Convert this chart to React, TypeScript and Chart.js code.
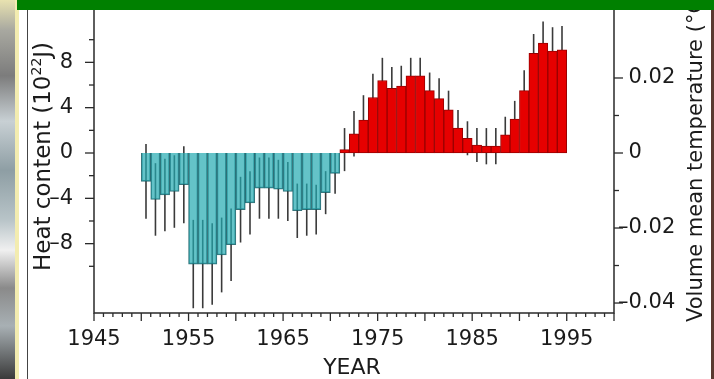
import { useEffect, useRef } from 'react';
import { Chart, registerables } from 'chart.js';

Chart.register(...registerables);

// ---- data ----
const years = [
  1950, 1951, 1952, 1953, 1954, 1955, 1956, 1957, 1958, 1959,
  1960, 1961, 1962, 1963, 1964, 1965, 1966, 1967, 1968, 1969,
  1970, 1971, 1972, 1973, 1974, 1975, 1976, 1977, 1978, 1979,
  1980, 1981, 1982, 1983, 1984, 1985, 1986, 1987, 1988, 1989,
  1990, 1991, 1992, 1993, 1994,
];
// heat content, 10^22 J
const heatContent = [
  -2.5, -4.1, -3.7, -3.4, -2.8, -9.8, -9.8, -9.8, -9.0, -8.1,
  -5.0, -4.4, -3.1, -3.1, -3.2, -3.4, -5.1, -5.0, -5.0, -3.5,
  -1.8, 0.3, 1.7, 2.9, 4.9, 6.4, 5.7, 5.9, 6.8, 6.8,
  5.5, 4.8, 3.8, 2.2, 1.3, 0.7, 0.6, 0.6, 1.6, 3.0,
  5.5, 8.8, 9.7, 9.0, 9.1,
];
// half-length of the error bars, 10^22 J
const errorHalf = [
  3.3, 3.2, 3.2, 3.2, 3.4, 3.9, 3.9, 3.6, 3.3, 3.2,
  2.9, 2.8, 2.7, 2.7, 2.6, 2.6, 2.4, 2.3, 2.2, 1.9,
  1.8, 1.9, 2.0, 2.2, 2.1, 2.0, 1.9, 1.8, 1.6, 1.6,
  1.6, 1.8, 1.7, 1.6, 1.5, 1.5, 1.6, 1.6, 1.6, 1.6,
  1.8, 1.7, 1.9, 2.1, 2.1,
];

const xTickValues = [1945, 1955, 1965, 1975, 1985, 1995];
const xTickLabels = ['1945', '1955', '1965', '1975', '1985', '1995'];
const leftTickValues = [-8, -4, 0, 4, 8];
const leftTickLabels = ['\u20138', '\u20134', '0', '4', '8'];
const leftMinorTicks = [-10, -6, -2, 2, 6, 10];
const rightTickValues = [-0.04, -0.02, 0, 0.02];
const rightTickLabels = ['\u20130.04', '\u20130.02', '\u20020', '\u20020.02'];
const rightMinorTicks = [-0.03, -0.01, 0.01];

const leftTitleParts = ['Heat content (10', '22', 'J)'];
const rightTitle = 'Volume mean temperature (\u00B0C)';
const xTitle = 'YEAR';

// axis ranges
const X_MIN = 1945;
const X_MAX = 2000;
const Y_MIN = -14.12;
const Y_MAX = 12.62;
const TEMP_PER_UNIT = 0.02 / 6.62; // degC per 10^22 J

const FONT = "'DejaVu Sans', sans-serif";
const INK = '#1b1b1b';

const paperPlugin = {
  id: 'paperAxes',
  beforeDatasetsDraw(chart: any) {
    const { ctx } = chart;
    const xs = chart.scales.x;
    const ys = chart.scales.y;
    ctx.save();
    ctx.strokeStyle = '#3a3a3a';
    ctx.lineWidth = 1.6;
    years.forEach((yr, i) => {
      const px = xs.getPixelForValue(yr + 0.5);
      const v = heatContent[i];
      const e = errorHalf[i];
      ctx.beginPath();
      ctx.moveTo(px, ys.getPixelForValue(v + e));
      ctx.lineTo(px, ys.getPixelForValue(v - e));
      ctx.stroke();
    });
    ctx.restore();
  },
  afterDraw(chart: any) {
    const { ctx, chartArea } = chart;
    const { left, right, bottom } = chartArea;
    const xs = chart.scales.x;
    const ys = chart.scales.y;
    const y2 = chart.scales.y2;
    ctx.save();
    ctx.strokeStyle = '#2a2a2a';
    ctx.lineWidth = 1.5;
    // axis lines
    ctx.beginPath();
    ctx.moveTo(left, 0);
    ctx.lineTo(left, bottom);
    ctx.lineTo(right, bottom);
    ctx.lineTo(right, 0);
    ctx.stroke();
    // x ticks (every year, longer every 5)
    ctx.lineWidth = 1.3;
    for (let yr = X_MIN; yr <= X_MAX; yr++) {
      const px = xs.getPixelForValue(yr);
      const len = (yr - X_MIN) % 5 === 0 ? 8 : 4;
      ctx.beginPath();
      ctx.moveTo(px, bottom);
      ctx.lineTo(px, bottom + len);
      ctx.stroke();
    }
    const drawY = (scale: any, vals: number[], len: number, dir: number, x0: number) => {
      vals.forEach((v) => {
        const py = scale.getPixelForValue(v);
        ctx.beginPath();
        ctx.moveTo(x0, py);
        ctx.lineTo(x0 + dir * len, py);
        ctx.stroke();
      });
    };
    drawY(ys, leftTickValues, 9, -1, left);
    drawY(ys, leftMinorTicks, 5, -1, left);
    drawY(y2, rightTickValues, 9, 1, right);
    drawY(y2, rightMinorTicks, 5, 1, right);

    // titles
    ctx.fillStyle = INK;
    ctx.textBaseline = 'middle';
    // left (rotated, with superscript)
    ctx.save();
    ctx.translate(44, 271);
    ctx.rotate(-Math.PI / 2);
    ctx.textAlign = 'left';
    let pos = 0;
    ctx.font = `23px ${FONT}`;
    ctx.fillText(leftTitleParts[0], pos, 0);
    pos += ctx.measureText(leftTitleParts[0]).width;
    ctx.font = `14px ${FONT}`;
    ctx.fillText(leftTitleParts[1], pos, -7);
    pos += ctx.measureText(leftTitleParts[1]).width;
    ctx.font = `23px ${FONT}`;
    ctx.fillText(leftTitleParts[2], pos, 0);
    ctx.restore();
    // right (rotated)
    ctx.save();
    ctx.translate(697, 322);
    ctx.rotate(-Math.PI / 2);
    ctx.textAlign = 'left';
    ctx.font = `21px ${FONT}`;
    ctx.fillText(rightTitle, 0, 0);
    ctx.restore();
    // x title
    ctx.textAlign = 'center';
    ctx.font = `22px ${FONT}`;
    ctx.fillText(xTitle, 352, 368);
    ctx.restore();
  },
};

export default function App() {
  const canvasRef = useRef<HTMLCanvasElement>(null);

  useEffect(() => {
    const canvas = canvasRef.current;
    if (!canvas) return;
    const neg = (c: any) => ((c.raw && c.raw.y) || 0) < 0;
    const chart = new Chart(canvas, {
      type: 'bar',
      data: {
        datasets: [
          {
            label: 'Heat content',
            data: years.map((yr, i) => ({ x: yr + 0.5, y: heatContent[i] })),
            backgroundColor: (c: any) => (neg(c) ? 'rgba(34,169,176,0.7)' : '#e60000'),
            borderColor: (c: any) => (neg(c) ? 'rgba(18,92,100,0.85)' : '#980000'),
            borderWidth: 1,
            borderSkipped: (c: any) => (neg(c) ? 'start' : false),
            barPercentage: 1,
            categoryPercentage: 1,
            xAxisID: 'x',
            yAxisID: 'y',
          } as any,
        ],
      },
      options: {
        animation: false,
        responsive: true,
        maintainAspectRatio: false,
        devicePixelRatio: 1,
        layout: { padding: { top: 10, left: 0, right: 0, bottom: 0 } },
        plugins: { legend: { display: false }, tooltip: { enabled: false } },
        scales: {
          x: {
            type: 'linear',
            min: X_MIN,
            max: X_MAX,
            offset: false,
            grid: { display: false, offset: false },
            border: { display: false },
            afterBuildTicks: (s: any) => {
              s.ticks = xTickValues.map((v) => ({ value: v }));
            },
            afterFit: (s: any) => {
              s.height = 66;
              s.paddingLeft = 0;
              s.paddingRight = 0;
            },
            ticks: {
              autoSkip: false,
              maxRotation: 0,
              padding: 6,
              color: INK,
              font: { family: FONT, size: 21 },
              callback: (_v: any, i: number) => xTickLabels[i],
            },
          },
          y: {
            type: 'linear',
            position: 'left',
            min: Y_MIN,
            max: Y_MAX,
            grid: { display: false },
            border: { display: false },
            afterBuildTicks: (s: any) => {
              s.ticks = leftTickValues.map((v) => ({ value: v }));
            },
            afterFit: (s: any) => {
              s.width = 94;
              s.paddingTop = 0;
              s.paddingBottom = 0;
            },
            ticks: {
              autoSkip: false,
              padding: 13,
              color: INK,
              font: { family: FONT, size: 21 },
              callback: (_v: any, i: number) => leftTickLabels[i],
            },
          },
          y2: {
            type: 'linear',
            position: 'right',
            min: Y_MIN * TEMP_PER_UNIT,
            max: Y_MAX * TEMP_PER_UNIT,
            grid: { display: false },
            border: { display: false },
            afterBuildTicks: (s: any) => {
              s.ticks = rightTickValues.map((v) => ({ value: v }));
            },
            afterFit: (s: any) => {
              s.width = 100;
              s.paddingTop = 0;
              s.paddingBottom = 0;
            },
            ticks: {
              autoSkip: false,
              padding: -4,
              color: INK,
              font: { family: FONT, size: 21 },
              callback: (_v: any, i: number) => rightTickLabels[i],
            },
          },
        },
      } as any,
      plugins: [paperPlugin],
    });
    return () => chart.destroy();
  }, []);

  return (
    <div
      style={{
        position: 'fixed',
        left: 0,
        top: 0,
        width: 714,
        height: 379,
        background: '#ffffff',
        overflow: 'hidden',
      }}
    >
      <div style={{ position: 'absolute', left: 0, top: 0, width: 714, height: 379 }}>
        <canvas ref={canvasRef} />
      </div>
      {/* photo strip on the left edge */}
      <div
        style={{
          position: 'absolute',
          left: 0,
          top: 0,
          width: 15,
          height: 379,
          background:
            'linear-gradient(to bottom, #e8e2b0 0%, #a8a8a0 8%, #7c7c7c 20%, #c8d0d4 32%, #8e9ea4 45%, #b8c4c8 58%, #f0f0f0 66%, #8a8a8a 76%, #a8b0b4 86%, #3a3a3a 100%)',
        }}
      />
      <div style={{ position: 'absolute', left: 15, top: 0, width: 4, height: 379, background: '#f3ecb0' }} />
      <div style={{ position: 'absolute', left: 27, top: 10, width: 1, height: 369, background: '#444' }} />
      {/* green banner at the top */}
      <div style={{ position: 'absolute', left: 17, top: 0, width: 697, height: 10, background: '#008000' }} />
      {/* dark edge on the right */}
      <div style={{ position: 'absolute', left: 711, top: 10, width: 3, height: 369, background: '#5a3a30' }} />
    </div>
  );
}
